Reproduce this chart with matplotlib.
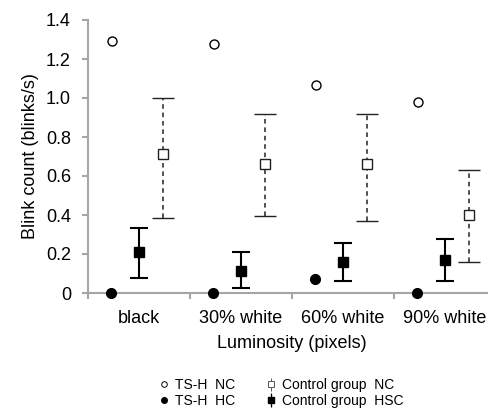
import matplotlib
matplotlib.use("Agg")
import matplotlib.pyplot as plt
import numpy as np
from matplotlib.lines import Line2D

plt.rcParams['font.family'] = ['Liberation Sans', 'DejaVu Sans']

categories = ['black', '30% white', '60% white', '90% white']
tsh_nc = [1.29, 1.277, 1.067, 0.98]
tsh_hc = [0.0, 0.0, 0.072, 0.0]
ctrl_nc = [0.713, 0.662, 0.662, 0.40]
ctrl_nc_low = [0.385, 0.395, 0.369, 0.16]
ctrl_nc_high = [1.0, 0.92, 0.92, 0.63]
ctrl_hsc = [0.21, 0.113, 0.16, 0.17]
ctrl_hsc_low = [0.077, 0.025, 0.062, 0.062]
ctrl_hsc_high = [0.333, 0.21, 0.256, 0.277]
yticks = [0, 0.2, 0.4, 0.6, 0.8, 1.0, 1.2, 1.4]
ytick_labels = ['0', '0.2', '0.4', '0.6', '0.8', '1.0', '1.2', '1.4']

fig = plt.figure(figsize=(4.88, 4.11), dpi=100)
ax = fig.add_axes([88/488, 1-293/411, 408/488, 273/411])

x = np.arange(len(categories))
gray = '#a6a6a6'

ax.plot(x - 0.26, tsh_nc, 'o', mfc='white', mec='black', mew=1.0, ms=6.5, ls='none', clip_on=False, zorder=4)
ax.plot(x - 0.27, tsh_hc, 'o', mfc='black', mec='black', ms=7, ls='none', clip_on=False, zorder=4)

nc = np.array(ctrl_nc)
eb1 = ax.errorbar(x + 0.24, nc, yerr=[nc - np.array(ctrl_nc_low), np.array(ctrl_nc_high) - nc],
                  fmt='s', mfc='white', mec='#222222', mew=1.0, ms=6.5, ecolor='#222222',
                  elinewidth=1.1, capsize=8, capthick=1.4, zorder=3)
eb1[2][0].set_linestyle((0, (3, 2.5)))

hs = np.array(ctrl_hsc)
eb2 = ax.errorbar(x, hs, yerr=[hs - np.array(ctrl_hsc_low), np.array(ctrl_hsc_high) - hs],
                  fmt='s', mfc='black', mec='black', ms=7, ecolor='black',
                  elinewidth=1.5, capsize=6.5, capthick=1.5, zorder=3)

ax.set_xlim(-0.5, 3.5)
ax.set_ylim(0, 1.4)
ax.set_yticks(yticks)
ax.set_yticklabels(ytick_labels)
ax.set_xticks([-0.5, 0.5, 1.5, 2.5, 3.5])
ax.set_xticklabels([])
ax.set_xticks(x, minor=True)
ax.set_xticklabels(categories, minor=True)
ax.tick_params(axis='x', which='minor', length=0, pad=12, labelsize=13)
ax.tick_params(axis='x', which='major', length=4.3, width=1.5, color=gray, direction='out')
ax.tick_params(axis='y', length=4.3, width=1.5, color=gray, direction='out', labelsize=13, pad=8)
for s in ['top', 'right']:
    ax.spines[s].set_visible(False)
for s in ['left', 'bottom']:
    ax.spines[s].set_color(gray)
    ax.spines[s].set_linewidth(1.5)

ax.set_ylabel('Blink count (blinks/s)', fontsize=13, labelpad=5)
fig.text(292/488, 1-343/411, 'Luminosity (pixels)', ha='center', va='center', fontsize=13)

h1 = Line2D([], [], marker='o', ls='none', mfc='white', mec='black', ms=4, mew=0.7)
h2 = Line2D([], [], marker='o', ls='none', mfc='black', mec='black', ms=4)
h3 = ax.errorbar([], [], yerr=[], fmt='s', mfc='white', mec='#555555', ms=4, ecolor='#555555',
                 capsize=3, elinewidth=0.7, capthick=0.7, mew=0.7)
h4 = ax.errorbar([], [], yerr=[], fmt='s', mfc='black', mec='black', ms=4, ecolor='black',
                 capsize=3, elinewidth=0.9, capthick=0.9)
fig.legend([h1, h2, h3, h4], ['TS-H  NC', 'TS-H  HC', 'Control group  NC', 'Control group  HSC'],
           ncol=2, loc='center', bbox_to_anchor=(281/488, 1-393/411), frameon=False,
           fontsize=10, handlelength=0.8, handletextpad=0.4, columnspacing=2.2,
           labelspacing=0.1, borderpad=0)

fig.savefig('out.png', dpi=100)
